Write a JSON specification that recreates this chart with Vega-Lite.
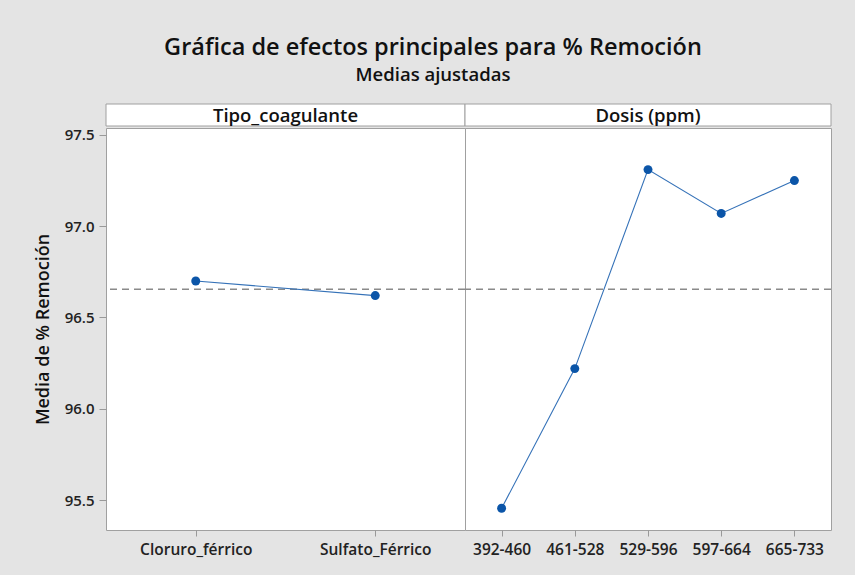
{
  "$schema": "https://vega.github.io/schema/vega-lite/v6.json",
  "background": "#e4e4e4",
  "padding": {"left": 33, "top": 35, "right": 25, "bottom": 20},
  "title": {
    "text": "Gráfica de efectos principales para % Remoción",
    "subtitle": "Medias ajustadas",
    "font": "Open Sans",
    "fontSize": 23.5,
    "fontWeight": 600,
    "color": "#111",
    "subtitleFont": "Open Sans",
    "subtitleFontSize": 18.5,
    "subtitleFontWeight": 600,
    "subtitleColor": "#111",
    "subtitlePadding": 7,
    "anchor": "middle",
    "offset": 19
  },
  "datasets": {
    "main": [
      {"factor": "Tipo_coagulante", "level": "Cloruro_férrico", "mean": 96.70},
      {"factor": "Tipo_coagulante", "level": "Sulfato_Férrico", "mean": 96.62},
      {"factor": "Dosis (ppm)", "level": "392-460", "mean": 95.455},
      {"factor": "Dosis (ppm)", "level": "461-528", "mean": 96.22},
      {"factor": "Dosis (ppm)", "level": "529-596", "mean": 97.31},
      {"factor": "Dosis (ppm)", "level": "597-664", "mean": 97.07},
      {"factor": "Dosis (ppm)", "level": "665-733", "mean": 97.25}
    ],
    "grand": [{"grandMean": 96.655}]
  },
  "spacing": 0,
  "vconcat": [
    {
      "spacing": 0,
      "bounds": "flush",
      "hconcat": [
        {
          "width": 359,
          "height": 22,
          "data": {"values": [{"label": "Tipo_coagulante"}]},
          "layer": [
            {"mark": {"type": "rect", "fill": "white", "stroke": "#a0a0a0", "strokeWidth": 1}, "encoding": {}},
            {"mark": {"type": "text", "font": "Open Sans", "fontSize": 18.5, "fontWeight": 600, "color": "#111", "baseline": "middle", "dy": 1},
             "encoding": {"text": {"field": "label"}}}
          ]
        },
        {
          "width": 366,
          "height": 22,
          "data": {"values": [{"label": "Dosis (ppm)"}]},
          "layer": [
            {"mark": {"type": "rect", "fill": "white", "stroke": "#a0a0a0", "strokeWidth": 1}, "encoding": {}},
            {"mark": {"type": "text", "font": "Open Sans", "fontSize": 18.5, "fontWeight": 600, "color": "#111", "baseline": "middle", "dy": 1},
             "encoding": {"text": {"field": "label"}}}
          ]
        }
      ]
    },
    {
      "spacing": 0,
      "bounds": "flush",
      "hconcat": [
        {
          "width": 359,
          "height": 402,
          "layer": [
            {
              "data": {"name": "grand"},
              "mark": {"type": "rule", "color": "#8a8a8a", "strokeWidth": 1.5, "strokeDash": [7, 5]},
              "encoding": {
                "y": {"field": "grandMean", "type": "quantitative", "scale": {"domain": [95.336, 97.538], "nice": false, "zero": false},
                  "axis": {"title": "Media de % Remoción", "values": [95.5, 96.0, 96.5, 97.0, 97.5], "format": ".1f", "grid": false, "domain": false,
                    "tickColor": "#999", "tickSize": 7, "labelFont": "Open Sans", "labelFontSize": 15, "labelFontWeight": 600, "labelColor": "#222", "labelPadding": 5,
                    "titleFont": "Open Sans", "titleFontSize": 18, "titleFontWeight": 600, "titleColor": "#111", "titlePadding": 12}}
              }
            },
            {
              "data": {"name": "main"},
              "transform": [{"filter": "datum.factor === 'Tipo_coagulante'"}],
              "mark": {"type": "line", "color": "#3572b8", "strokeWidth": 1.1},
              "encoding": {
                "x": {"field": "level", "type": "ordinal", "sort": null, "scale": {"type": "point", "padding": 0.5},
                  "axis": {"title": null, "labelAngle": 0, "domain": false, "tickColor": "#999", "tickSize": 6, "labelFont": "Open Sans", "labelFontSize": 15.5, "labelFontWeight": 600, "labelColor": "#222", "labelPadding": 6}},
                "y": {"field": "mean", "type": "quantitative"}
              }
            },
            {
              "data": {"name": "main"},
              "transform": [{"filter": "datum.factor === 'Tipo_coagulante'"}],
              "mark": {"type": "point", "filled": true, "color": "#0b55a8", "size": 80, "opacity": 1},
              "encoding": {
                "x": {"field": "level", "type": "ordinal", "sort": null},
                "y": {"field": "mean", "type": "quantitative"}
              }
            }
          ]
        },
        {
          "width": 366,
          "height": 402,
          "layer": [
            {
              "data": {"name": "grand"},
              "mark": {"type": "rule", "color": "#8a8a8a", "strokeWidth": 1.5, "strokeDash": [7, 5]},
              "encoding": {
                "y": {"field": "grandMean", "type": "quantitative", "scale": {"domain": [95.336, 97.538], "nice": false, "zero": false}, "axis": null}
              }
            },
            {
              "data": {"name": "main"},
              "transform": [{"filter": "datum.factor === 'Dosis (ppm)'"}],
              "mark": {"type": "line", "color": "#3572b8", "strokeWidth": 1.1},
              "encoding": {
                "x": {"field": "level", "type": "ordinal", "sort": null, "scale": {"type": "point", "padding": 0.5},
                  "axis": {"title": null, "labelAngle": 0, "domain": false, "tickColor": "#999", "tickSize": 6, "labelFont": "Open Sans", "labelFontSize": 15.5, "labelFontWeight": 600, "labelColor": "#222", "labelPadding": 6}},
                "y": {"field": "mean", "type": "quantitative"}
              }
            },
            {
              "data": {"name": "main"},
              "transform": [{"filter": "datum.factor === 'Dosis (ppm)'"}],
              "mark": {"type": "point", "filled": true, "color": "#0b55a8", "size": 80, "opacity": 1},
              "encoding": {
                "x": {"field": "level", "type": "ordinal", "sort": null},
                "y": {"field": "mean", "type": "quantitative"}
              }
            }
          ]
        }
      ]
    }
  ],
  "config": {
    "view": {"fill": "white", "stroke": "#a0a0a0", "strokeWidth": 1}
  }
}
